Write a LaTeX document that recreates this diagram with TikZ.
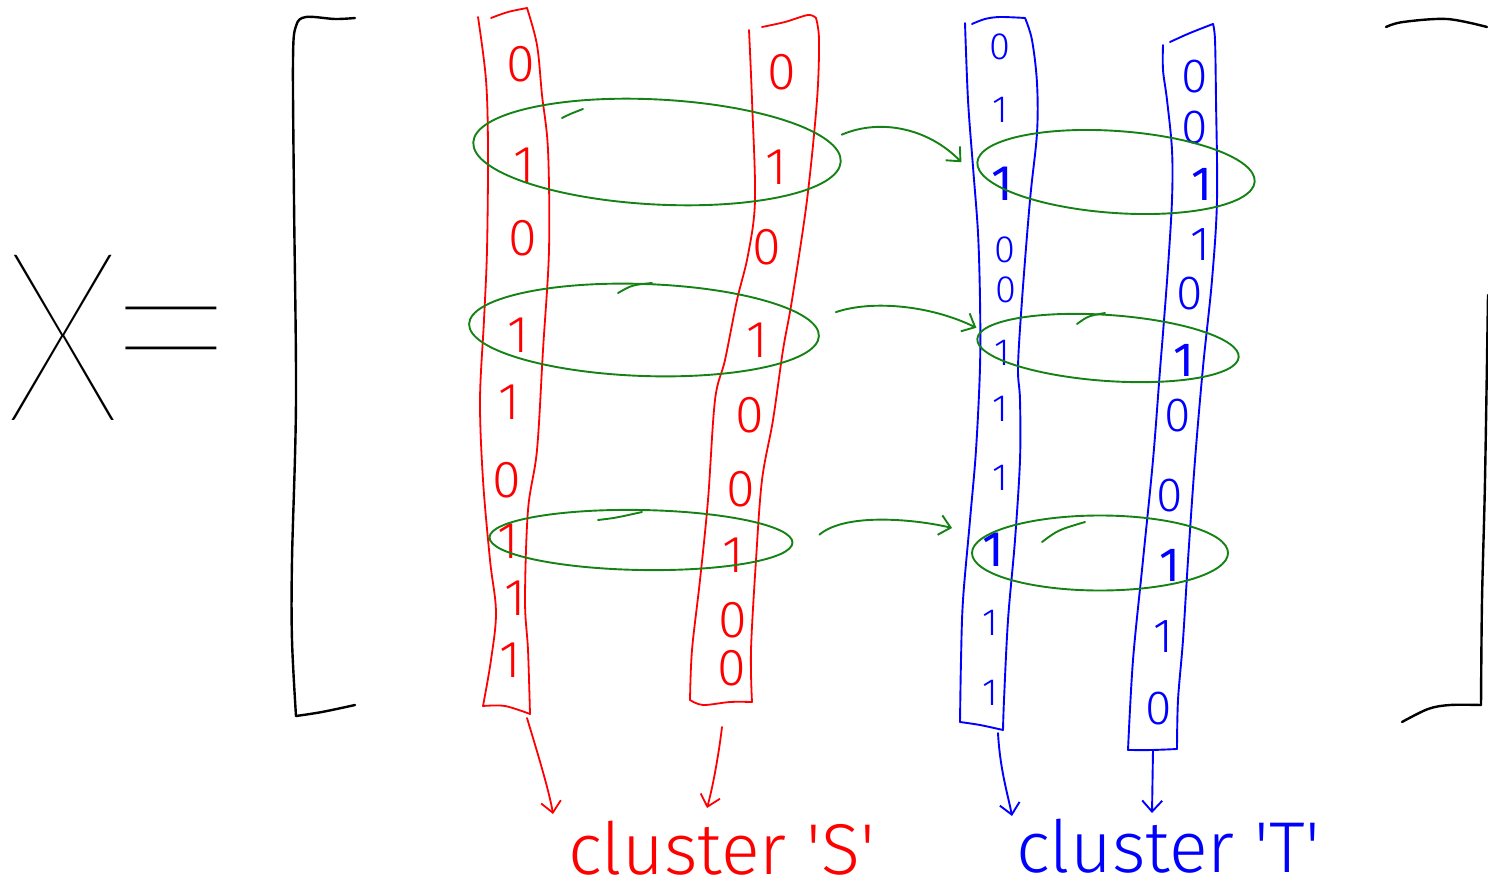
\documentclass[tikz,border=0pt]{standalone}
\usepackage{fontspec}
\IfFontExistsTF{Fira Sans Light}
  {\newfontfamily\hand{Fira Sans Light}[BoldFont=Fira Sans]}
  {\newfontfamily\hand{Fira Sans}}
\def\thinpick#1{\IfFontExistsTF{#1}{\newfontfamily\handthin{#1}}}
\thinpick{Lato Hairline}{%
  \thinpick{Poppins Thin}{%
    \thinpick{Fira Sans Thin}{%
      \thinpick{Lato Thin}{%
        \thinpick{Poppins ExtraLight}{%
          \thinpick{DejaVu Sans ExtraLight}{\let\handthin\hand}}}}}}
\usetikzlibrary{shapes.geometric,arrows.meta}
\definecolor{penred}{RGB}{255,0,0}
\definecolor{penblue}{RGB}{0,0,255}
\definecolor{pengreen}{RGB}{20,130,20}
\tikzset{
  pen/.style={line width=1.8pt, line cap=round, line join=round},
  redpen/.style={pen, draw=penred},
  bluepen/.style={pen, draw=penblue, line width=1.9pt},
  greenpen/.style={pen, draw=pengreen, line width=1.9pt},
  blackpen/.style={pen, draw=black, line width=2.4pt},
  loop/.style={ellipse, greenpen, inner sep=0pt},
  barb/.style={-{Straight Barb[length=11pt,width=20pt]}},
  dig/.style={font=\hand\fontsize{#1}{#1}\selectfont, inner sep=0pt},
  lbl/.style={font=\hand\fontsize{72pt}{72pt}\selectfont, inner sep=0pt, anchor=base west},
  sm/.style={smooth, tension=0.55}
}
\begin{document}
\begin{tikzpicture}[x=1pt,y=-1pt]
\useasboundingbox (0,0) rectangle (1488,893);

% ---- "X =" on one baseline ----
\node[inner sep=0pt, anchor=base west] (X) at (6,420)
  {\scalebox{0.8}[1]{\handthin\fontsize{236pt}{236pt}\selectfont X}\kern-14pt%
   \scalebox{1.42}[1.7]{\handthin\fontsize{160pt}{160pt}\selectfont =}};

% ---- matrix brackets ----
\draw[blackpen] plot[sm] coordinates {(355,18) (335,19) (306,17) (296,26) (293,60) (294,200) (296,400) (292,560) (292,640) (296,716)};
\draw[blackpen] plot[sm] coordinates {(296,716) (322,712) (355,705)};
\draw[blackpen] plot[sm] coordinates {(1386,27) (1403,22) (1447,19) (1487,27)};
\draw[blackpen] plot[sm] coordinates {(1488,295) (1485,480) (1482,600) (1481,705)};
\draw[blackpen] plot[sm] coordinates {(1481,705) (1450,705) (1428,709) (1402,722)};

% ---- cluster S: two red columns ----
\draw[redpen] plot[sm] coordinates {(478,17) (486,80) (488,150) (487,250) (484,320) (480,400) (483,480) (490,560) (496,612) (491,660) (483,706)};
\draw[redpen] plot[sm] coordinates {(483,706) (505,706) (530,714)};
\draw[redpen] plot[sm] coordinates {(530,714) (528,650) (525,600) (528,510) (537,450) (543,350) (549,250) (548,150) (542,95) (537,45) (527,8)};
\draw[redpen] plot[sm] coordinates {(527,8) (508,12) (491,18)};

\draw[redpen] plot[sm] coordinates {(749,30) (752,100) (755,200) (748,255) (737,300) (725,360) (715,400) (708,500) (700,580) (692,650) (690,700)};
\draw[redpen] plot[sm] coordinates {(690,700) (703,705) (730,702) (752,702)};
\draw[redpen] plot[sm] coordinates {(752,702) (751,650) (756,560) (762,480) (773,420) (783,350) (792,300) (807,200) (817,100) (819,40) (816,18)};
\draw[redpen] plot[sm] coordinates {(816,18) (808,15) (785,22) (762,27)};

\coordinate (S1foot) at (527,718);
\coordinate (S2foot) at (722,727);

\foreach \d/\x/\y in {0/521/64, 1/524/165, 0/523/238, 1/518/335, 1/509/402, 0/507/480, 1/508/541, 1/515/598, 1/510/660}
  \node[dig=52pt, text=penred] (s1-\y) at (\x,\y) {\d};
\foreach \d/\x/\y in {0/782/72, 1/776/167, 0/767/247, 1/757/340, 0/750/415, 0/741/489, 1/733/555, 0/733/620, 0/732/668}
  \node[dig=52pt, text=penred] (s2-\y) at (\x,\y) {\d};

% ---- cluster T: two blue columns ----
\draw[bluepen] plot[sm] coordinates {(965,23) (968,100) (973,167) (978,233) (980,300) (980,367) (976,450) (970,520) (963,600) (961,660) (960,722)};
\draw[bluepen] plot[sm] coordinates {(960,722) (980,725) (1003,730)};
\draw[bluepen] plot[sm] coordinates {(1003,730) (1004,700) (1008,620) (1015,540) (1020,460) (1020,400) (1018,367) (1022,300) (1030,200) (1037,133) (1037,83) (1032,40) (1025,18)};
\draw[bluepen] plot[sm] coordinates {(1025,18) (1000,17) (985,19) (972,24)};

\draw[bluepen] plot[sm] coordinates {(1163,45) (1163,70) (1167,100) (1172,150) (1172,200) (1168,267) (1163,333) (1160,370) (1153,460) (1143,560) (1133,660) (1128,750)};
\draw[bluepen] plot[sm] coordinates {(1128,750) (1152,750) (1177,749)};
\draw[bluepen] plot[sm] coordinates {(1177,749) (1178,700) (1183,640) (1188,560) (1195,460) (1203,367) (1212,280) (1217,200) (1216,100) (1215,40) (1213,24)};
\draw[bluepen] plot[sm] coordinates {(1213,24) (1190,33) (1170,42)};

\coordinate (T1foot) at (998,733);
\coordinate (T2foot) at (1153,750);

\foreach \d/\x/\y in {0/1000/47, 1/1000/110, 0/1005/250, 0/1006/290, 1/1002/353, 1/1000/409, 1/1000/478, 1/990/623, 1/990/693}
  \node[dig=38pt, text=penblue] (t1-\y) at (\x,\y) {\d};
\foreach \y/\x in {184/1002, 550/993}
  \node[dig=50pt, text=penblue, font=\hand\bfseries\fontsize{50pt}{50pt}\selectfont] (t1-\y) at (\x,\y) {1};
\foreach \d/\x/\y in {0/1195/77, 0/1195/128, 1/1200/245, 0/1190/294, 0/1178/416, 0/1170/496, 1/1163/637, 0/1159/709}
  \node[dig=48pt, text=penblue] (t2-\y) at (\x,\y) {\d};
\foreach \y/\x in {184/1202, 360/1184, 565/1170}
  \node[dig=48pt, text=penblue, font=\hand\bfseries\fontsize{48pt}{48pt}\selectfont] (t2-\y) at (\x,\y) {1};

% ---- green loops around matching rows ----
\node[loop, minimum width=368pt, minimum height=105pt, rotate=-3] (R1) at (657,152) {};
\node[loop, minimum width=350pt, minimum height=92pt, rotate=-2] (R2) at (644,330) {};
\node[loop, minimum width=303pt, minimum height=60pt, rotate=-1] (R3) at (641,540) {};
\node[loop, minimum width=278pt, minimum height=82pt, rotate=-4] (B1) at (1116,172) {};
\node[loop, minimum width=262pt, minimum height=66pt, rotate=-4] (B2) at (1108,348) {};
\node[loop, minimum width=256pt, minimum height=75pt] (B3) at (1100,553) {};

% pen overlaps where each loop was closed
\draw[greenpen] (562,118) .. controls (570,114) .. (583,109);
\draw[greenpen] (618,293) .. controls (632,285) .. (652,283);
\draw[greenpen] (598,520) .. controls (615,518) .. (642,512);
\draw[greenpen] (1077,324) .. controls (1088,316) .. (1105,313);
\draw[greenpen] (1042,542) .. controls (1058,530) .. (1085,522);

% ---- green arrows from S rows to T rows ----
\draw[greenpen, barb] ([yshift=27pt]R1.east) .. controls +(40,-17) and +(-32,-33) .. ([xshift=-15pt]B1.west);
\draw[greenpen, barb] ([xshift=16pt,yshift=24pt]R2.east) .. controls +(35,-12) and +(-47,-23) .. ([yshift=11pt]B2.west);
\draw[greenpen, barb] ([xshift=26pt,yshift=8pt]R3.east) .. controls +(27,-23) and +(-33,-8) .. ([xshift=-19pt,yshift=25pt]B3.west);

% ---- labels ----
\node[lbl, text=penred] (LS) at (568,874) {cluster \textquotesingle S\textquotesingle};
\node[lbl, text=penblue] (LT) at (1016,872) {cluster \textquotesingle T\textquotesingle};

\coordinate (S1tip) at (553,814);
\coordinate (S2tip) at (707,808);
\coordinate (T1tip) at (1012,816);
\coordinate (T2tip) at (1152,813);

\draw[redpen, barb] (S1foot) .. controls (536,748) and (549,790) .. (S1tip);
\draw[redpen, barb] (S2foot) .. controls (718,760) and (712,790) .. (S2tip);
\draw[bluepen, barb] (T1foot) .. controls (1000,770) and (1008,795) .. (T1tip);
\draw[bluepen, barb] (T2foot) -- (T2tip);
\end{tikzpicture}
\end{document}
